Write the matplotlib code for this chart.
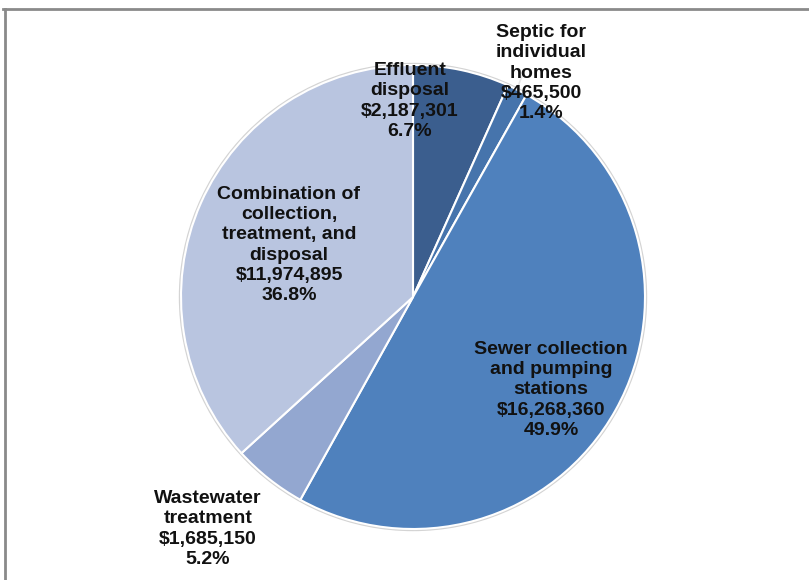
import matplotlib.pyplot as plt
from matplotlib.lines import Line2D

# project funding by category (dollars)
categories = ["Effluent\ndisposal", "Septic for\nindividual\nhomes",
              "Sewer collection\nand pumping\nstations", "Wastewater\ntreatment",
              "Combination of\ncollection,\ntreatment, and\ndisposal"]
amounts = [2187301, 465500, 16268360, 1685150, 11974895]
colors = ["#3B5E8E", "#4674AC", "#4F81BD", "#93A7D0", "#B9C5E0"]

# label anchor points in figure pixels (x, y from top)
label_pos = [(410, 101), (541, 73), (551, 390), (208, 529), (289, 245)]

W, H = 809, 580
fig = plt.figure(figsize=(W / 100, H / 100), dpi=100)
ax = fig.add_axes([0, 0, 1, 1])

cx, cy, r = 413, H - 297, 232

# faint shadow ring around the pie
ring = plt.Circle((cx, cy), r + 1.5, color="#d4d4d4", zorder=0)
ax.add_patch(ring)

ax.pie(amounts, colors=colors, startangle=90, counterclock=False,
       center=(cx, cy), radius=r, frame=True,
       wedgeprops=dict(edgecolor="white", linewidth=1.5))
ax.set_xlim(0, W)
ax.set_ylim(0, H)
ax.set_aspect("equal")
ax.axis("off")

total = sum(amounts)
for name, amt, (px, py) in zip(categories, amounts, label_pos):
    txt = f"{name}\n${amt:,}\n{amt / total * 100:.1f}%"
    ax.text(px, H - py, txt, ha="center", va="center", fontsize=14,
            fontweight="bold", family="Liberation Sans", linespacing=1.24,
            color="#111111", zorder=5)

# leader line for the small septic slice
ax.plot([517, 522], [H - 89, H - 76], color="#e8e8e8", lw=1.2, zorder=4)

# chart frame (top and left edges visible)
fig.add_artist(Line2D([3 / W, 1], [1 - 9 / H, 1 - 9 / H], color="#8a8a8a",
                      lw=2, transform=fig.transFigure))
fig.add_artist(Line2D([4.5 / W, 4.5 / W], [0, 1 - 9 / H], color="#8a8a8a",
                      lw=2, transform=fig.transFigure))

fig.savefig("out.png", dpi=100)
